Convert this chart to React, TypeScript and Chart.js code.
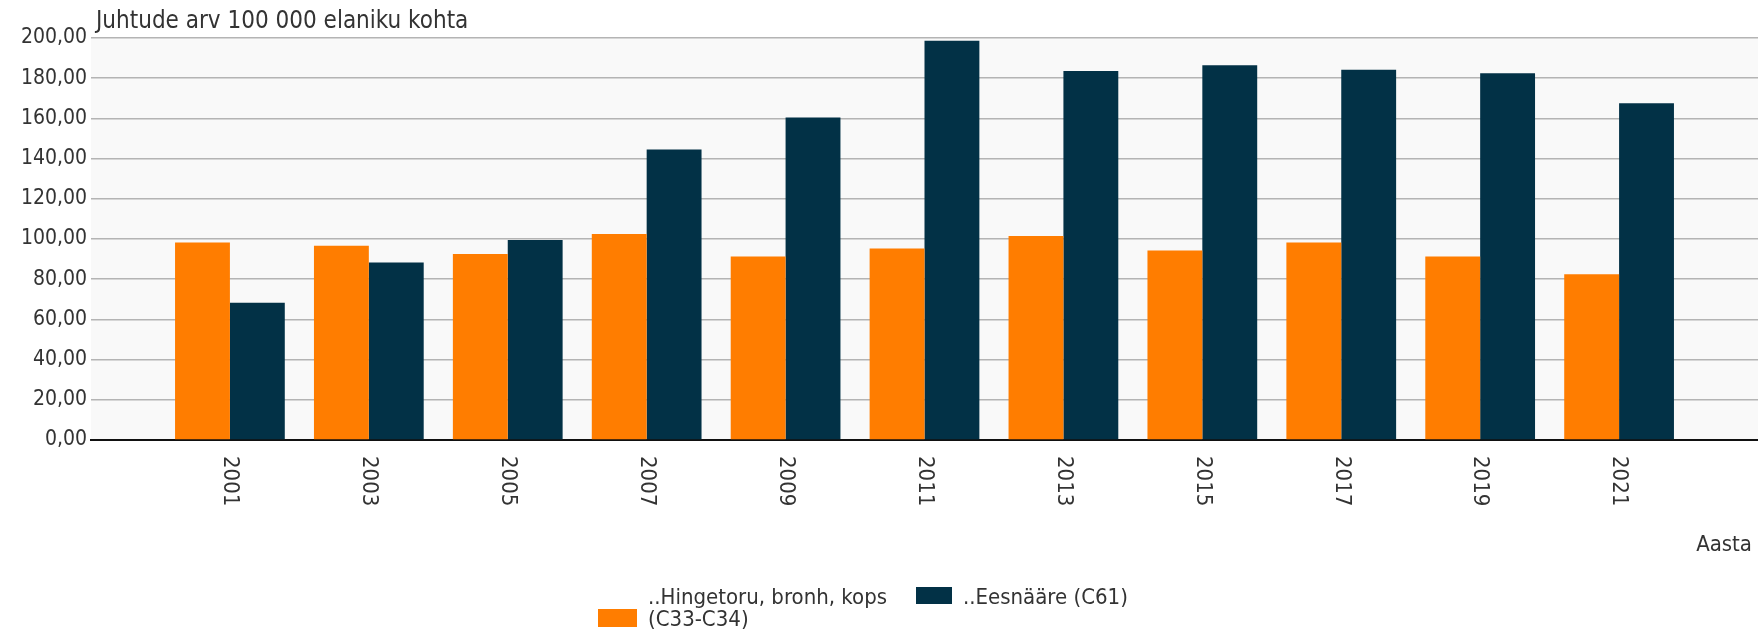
import React, { useEffect, useRef } from "react";
import { Chart, registerables } from "chart.js";

Chart.register(...registerables);

const years = [2001, 2003, 2005, 2007, 2009, 2011, 2013, 2015, 2017, 2019, 2021];
const hingetoru = [98.3, 96.7, 92.5, 102.5, 91.3, 95.3, 101.5, 94.3, 98.3, 91.3, 82.5];
const eesnaare = [68.3, 88.3, 99.5, 144.5, 160.5, 198.6, 183.6, 186.5, 184.2, 182.5, 167.5];
const seriesNames = [["..Hingetoru, bronh, kops", "(C33-C34)"], ["..Eesnääre (C61)"]];
const yTitle = "Juhtude arv 100 000 elaniku kohta";
const xTitle = "Aasta";

const FONT = "'DejaVu Sans Condensed', 'DejaVu Sans', sans-serif";
const ORANGE = "#ff7d00";
const NAVY = "#023146";
const TEXT = "#333333";

const decorPlugin = {
  id: "decor",
  beforeDraw(chart: any) {
    const { ctx, chartArea } = chart;
    ctx.save();
    ctx.fillStyle = "#f9f9f9";
    ctx.fillRect(chartArea.left, chartArea.top, chartArea.right - chartArea.left, chartArea.bottom - chartArea.top);
    ctx.restore();
  },
  afterDraw(chart: any) {
    const { ctx, chartArea } = chart;
    const xs = chart.scales.x;
    ctx.save();
    ctx.fillStyle = TEXT;
    // y axis title
    ctx.font = `24px ${FONT}`;
    ctx.textAlign = "left";
    ctx.textBaseline = "alphabetic";
    ctx.fillText(yTitle, chartArea.left + 5, chartArea.top - 10);
    // x tick labels rotated clockwise
    ctx.font = `22px ${FONT}`;
    years.forEach((yr) => {
      const px = xs.getPixelForValue(yr);
      ctx.save();
      ctx.translate(px, chartArea.bottom + 16);
      ctx.rotate(Math.PI / 2);
      ctx.textAlign = "left";
      ctx.textBaseline = "middle";
      ctx.fillText(String(yr), 0, 0);
      ctx.restore();
    });
    // x axis title
    ctx.textAlign = "right";
    ctx.textBaseline = "middle";
    ctx.fillText(xTitle, chart.width - 6, 545);
    // legend
    ctx.font = `22px ${FONT}`;
    ctx.textAlign = "left";
    ctx.textBaseline = "alphabetic";
    ctx.fillStyle = ORANGE;
    ctx.fillRect(598, 609, 39, 18);
    ctx.fillStyle = TEXT;
    ctx.fillText(seriesNames[0][0], 648, 604);
    ctx.fillText(seriesNames[0][1], 648, 626);
    ctx.fillStyle = NAVY;
    ctx.fillRect(916, 587, 36, 17);
    ctx.fillStyle = TEXT;
    ctx.fillText(seriesNames[1][0], 963, 604);
    ctx.restore();
  },
};

export default function App() {
  const ref = useRef<HTMLCanvasElement | null>(null);
  useEffect(() => {
    if (!ref.current) return;
    Chart.defaults.font.family = FONT;
    const chart = new Chart(ref.current, {
      type: "bar",
      data: {
        datasets: [
          {
            label: seriesNames[0].join(" "),
            data: years.map((y, i) => ({ x: y, y: hingetoru[i] })),
            backgroundColor: ORANGE,
            categoryPercentage: 0.79,
            barPercentage: 1.0,
          },
          {
            label: seriesNames[1][0],
            data: years.map((y, i) => ({ x: y, y: eesnaare[i] })),
            backgroundColor: NAVY,
            categoryPercentage: 0.79,
            barPercentage: 1.0,
          },
        ],
      },
      options: {
        animation: false,
        responsive: true,
        maintainAspectRatio: false,
        layout: { padding: { top: 38, left: 0, right: 0, bottom: 0 } },
        plugins: { legend: { display: false }, tooltip: { enabled: false } },
        scales: {
          x: {
            type: "linear",
            min: 1999,
            max: 2023,
            offset: false,
            grid: { display: false },
            border: { display: true, color: "#111111", width: 2 },
            ticks: { display: false },
            afterBuildTicks: (scale: any) => {
              scale.ticks = years.map((v) => ({ value: v }));
            },
            afterFit: (scale: any) => {
              scale.height = 194;
            },
          },
          y: {
            min: 0,
            max: 200,
            ticks: {
              stepSize: 20,
              padding: 4,
              color: TEXT,
              font: { size: 21, family: FONT },
              callback: (v: any) => Number(v).toFixed(2).replace(".", ","),
            },
            grid: { color: "#b4b4b4", lineWidth: 1.5, drawTicks: false },
            border: { display: false },
            afterFit: (scale: any) => {
              scale.width = 91;
            },
          },
        },
      },
      plugins: [decorPlugin],
    });
    return () => chart.destroy();
  }, []);
  return (
    <div style={{ position: "fixed", left: 0, top: 0, width: 1758, height: 634, background: "#fff" }}>
      <canvas ref={ref} />
    </div>
  );
}
